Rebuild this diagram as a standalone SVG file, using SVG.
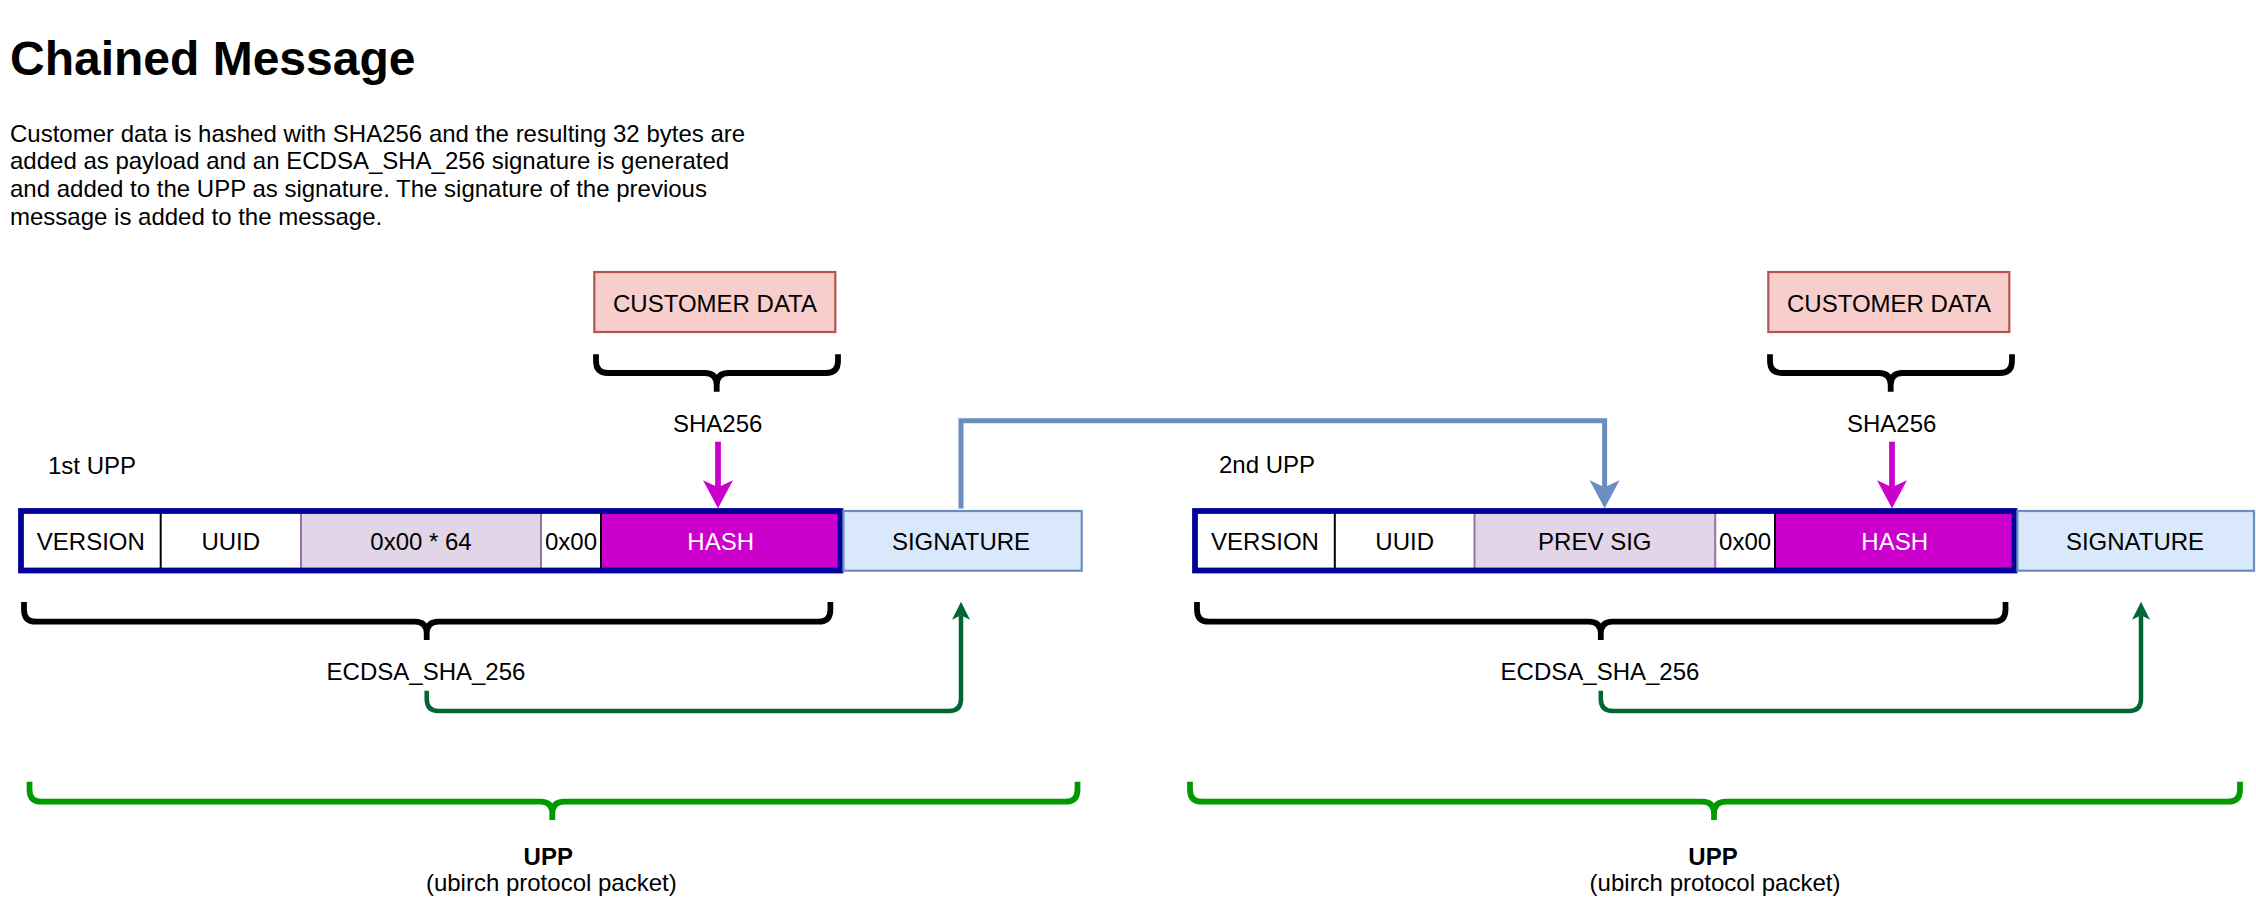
<svg xmlns="http://www.w3.org/2000/svg" width="2256" height="900" viewBox="0 0 2256 900">
<style>
.t{font-family:"Liberation Sans",Arial,Helvetica,sans-serif;font-size:24px;fill:#000}
.c{text-anchor:middle}
.w{fill:#fff}
.b{font-weight:bold}
.cell{stroke:none}
.divk{stroke:#000;stroke-width:2}
.divp{stroke:#9673a6;stroke-width:2}
.outer{fill:none;stroke:#000099;stroke-width:5.76}
.sig{fill:#dae8fc;stroke:#6c8ebf;stroke-width:2.2}
.cust{fill:#f8cecc;stroke:#b85450;stroke-width:2.2}
.brace{fill:none;stroke:#000;stroke-width:5.76;stroke-linejoin:round}
.gbrace{fill:none;stroke:#009900;stroke-width:5.76;stroke-linejoin:round}
.blue{fill:none;stroke:#6c8ebf;stroke-width:5}
.mag{fill:none;stroke:#cc00cc;stroke-width:5.76}
.grn{fill:none;stroke:#006633;stroke-width:4.5}
</style>
<defs>
<marker id="mBlue" markerUnits="userSpaceOnUse" viewBox="-8 -16 30 32" markerWidth="30" markerHeight="32" refX="0" refY="0" orient="auto">
<path d="M21,0 L-7,-15 L0,0 L-7,15 Z" fill="#6c8ebf"/>
</marker>
<marker id="mMag" markerUnits="userSpaceOnUse" viewBox="-8 -16 30 32" markerWidth="30" markerHeight="32" refX="0" refY="0" orient="auto">
<path d="M21,0 L-7,-15 L0,0 L-7,15 Z" fill="#cc00cc"/>
</marker>
<marker id="mGrn" markerUnits="userSpaceOnUse" viewBox="-6 -10 21 20" markerWidth="21" markerHeight="20" refX="0" refY="0" orient="auto">
<path d="M13.5,0 L-4.5,-9 L0,0 L-4.5,9 Z" fill="#006633"/>
</marker>
</defs>
<rect width="2256" height="900" fill="#fff"/>

<g id="title">
<text class="t b" x="10" y="75" style="font-size:48px">Chained Message</text>
</g>
<g id="description">
<text class="t" x="10" y="141.5">Customer data is hashed with SHA256 and the resulting 32 bytes are</text>
<text class="t" x="10" y="169.3">added as payload and an ECDSA_SHA_256 signature is generated</text>
<text class="t" x="10" y="197">and added to the UPP as signature. The signature of the previous</text>
<text class="t" x="10" y="224.8">message is added to the message.</text>
</g>

<!-- First UPP -->
<g id="label-upp1"><text class="t" x="48" y="474">1st UPP</text></g>
<g id="customer1">
<rect class="cust" x="594.3" y="272" width="241" height="60"/>
<text class="t c" x="715" y="311.7">CUSTOMER DATA</text>
</g>
<g id="brace-cust1"><path class="brace" d="M596,354.3 L596,361 Q596,373 608,373 L704.7,373 Q716.7,373 716.7,385 L716.7,391.7 M838,354.3 L838,361 Q838,373 826,373 L728.7,373 Q716.7,373 716.7,385"/></g>
<g id="sha1"><text class="t c" x="717.7" y="431.7">SHA256</text></g>

<g id="upp1">
<rect class="cell" x="21" y="511" width="280" height="59.5" fill="#fff"/>
<rect class="cell" x="301" y="511" width="240" height="59.5" fill="#e1d5e7"/>
<rect class="cell" x="541" y="511" width="60" height="59.5" fill="#fff"/>
<rect class="cell" x="601" y="511" width="239.5" height="59.5" fill="#cc00cc"/>
<line class="divk" x1="160.7" y1="511" x2="160.7" y2="570.5"/>
<line class="divp" x1="301" y1="511" x2="301" y2="570.5"/>
<line class="divp" x1="541" y1="511" x2="541" y2="570.5"/>
<line class="divk" x1="601" y1="511" x2="601" y2="570.5"/>
<rect class="outer" x="21" y="511" width="819.5" height="59.5"/>
<text class="t c" x="90.8" y="550">VERSION</text>
<text class="t c" x="230.8" y="550">UUID</text>
<text class="t c" x="421" y="550">0x00 * 64</text>
<text class="t c" x="571" y="550">0x00</text>
<text class="t c w" x="720.7" y="550">HASH</text>
</g>
<g id="sig1">
<rect class="sig" x="843.4" y="511" width="238.3" height="59.7"/>
<text class="t c" x="961" y="550">SIGNATURE</text>
</g>
<g id="brace-ecdsa1"><path class="brace" d="M24,602 L24,609.7 Q24,621.7 36,621.7 L414.7,621.7 Q426.7,621.7 426.7,633.7 L426.7,640 M830.4,602 L830.4,609.7 Q830.4,621.7 818.4,621.7 L438.7,621.7 Q426.7,621.7 426.7,633.7"/></g>
<g id="ecdsa1"><text class="t c" x="426" y="680">ECDSA_SHA_256</text></g>
<g id="brace-upp1"><path class="gbrace" d="M29.5,781.7 L29.5,789.7 Q29.5,801.7 41.5,801.7 L540.3,801.7 Q552.3,801.7 552.3,813.7 L552.3,820 M1077.5,781.7 L1077.5,789.7 Q1077.5,801.7 1065.5,801.7 L564.3,801.7 Q552.3,801.7 552.3,813.7"/></g>
<g id="upp1-caption">
<text class="t c b" x="548.3" y="865">UPP</text>
<text class="t c" x="551.3" y="891">(ubirch protocol packet)</text>
</g>

<!-- Second UPP -->
<g id="label-upp2"><text class="t" x="1219" y="473">2nd UPP</text></g>
<g id="customer2">
<rect class="cust" x="1768.3" y="272" width="241" height="60"/>
<text class="t c" x="1889" y="311.7">CUSTOMER DATA</text>
</g>
<g id="brace-cust2"><path class="brace" d="M1770,354.3 L1770,361 Q1770,373 1782,373 L1878.7,373 Q1890.7,373 1890.7,385 L1890.7,391.7 M2012,354.3 L2012,361 Q2012,373 2000,373 L1902.7,373 Q1890.7,373 1890.7,385"/></g>
<g id="sha2"><text class="t c" x="1891.7" y="431.7">SHA256</text></g>

<g id="upp2">
<rect class="cell" x="1195" y="511" width="280" height="59.5" fill="#fff"/>
<rect class="cell" x="1474.5" y="511" width="240.7" height="59.5" fill="#e1d5e7"/>
<rect class="cell" x="1715.2" y="511" width="60" height="59.5" fill="#fff"/>
<rect class="cell" x="1775" y="511" width="239.5" height="59.5" fill="#cc00cc"/>
<line class="divk" x1="1334.8" y1="511" x2="1334.8" y2="570.5"/>
<line class="divp" x1="1474.5" y1="511" x2="1474.5" y2="570.5"/>
<line class="divp" x1="1715.2" y1="511" x2="1715.2" y2="570.5"/>
<line class="divk" x1="1775" y1="511" x2="1775" y2="570.5"/>
<rect class="outer" x="1195" y="511" width="819.5" height="59.5"/>
<text class="t c" x="1264.9" y="550">VERSION</text>
<text class="t c" x="1404.7" y="550">UUID</text>
<text class="t c" x="1594.8" y="550">PREV SIG</text>
<text class="t c" x="1745.1" y="550">0x00</text>
<text class="t c w" x="1894.7" y="550">HASH</text>
</g>
<g id="sig2">
<rect class="sig" x="2017.4" y="511" width="236.6" height="59.7"/>
<text class="t c" x="2135" y="550">SIGNATURE</text>
</g>
<g id="brace-ecdsa2"><path class="brace" d="M1197,602 L1197,609.7 Q1197,621.7 1209,621.7 L1588.8,621.7 Q1600.8,621.7 1600.8,633.7 L1600.8,640 M2005.5,602 L2005.5,609.7 Q2005.5,621.7 1993.5,621.7 L1612.8,621.7 Q1600.8,621.7 1600.8,633.7"/></g>
<g id="ecdsa2"><text class="t c" x="1600" y="679.5">ECDSA_SHA_256</text></g>
<g id="brace-upp2"><path class="gbrace" d="M1190,781.7 L1190,789.7 Q1190,801.7 1202,801.7 L1702,801.7 Q1714,801.7 1714,813.7 L1714,820 M2240,781.7 L2240,789.7 Q2240,801.7 2228,801.7 L1726,801.7 Q1714,801.7 1714,813.7"/></g>
<g id="upp2-caption">
<text class="t c b" x="1713" y="865">UPP</text>
<text class="t c" x="1715" y="891">(ubirch protocol packet)</text>
</g>

<g id="connectors">
<path class="mag" d="M718,441.7 L718,487.3" marker-end="url(#mMag)"/>
<path class="mag" d="M1892,441.7 L1892,487.3" marker-end="url(#mMag)"/>
<path class="blue" d="M961,508.5 L961,420.7 L1604.6,420.7 L1604.6,487.3" marker-end="url(#mBlue)"/>
<path class="grn" d="M426.7,690.7 L426.7,699 Q426.7,711 438.7,711 L949,711 Q961,711 961,699 L961,615.2" marker-end="url(#mGrn)"/>
<path class="grn" d="M1600.8,690.7 L1600.8,699 Q1600.8,711 1612.8,711 L2129,711 Q2141,711 2141,699 L2141,615.2" marker-end="url(#mGrn)"/>
</g>
</svg>
